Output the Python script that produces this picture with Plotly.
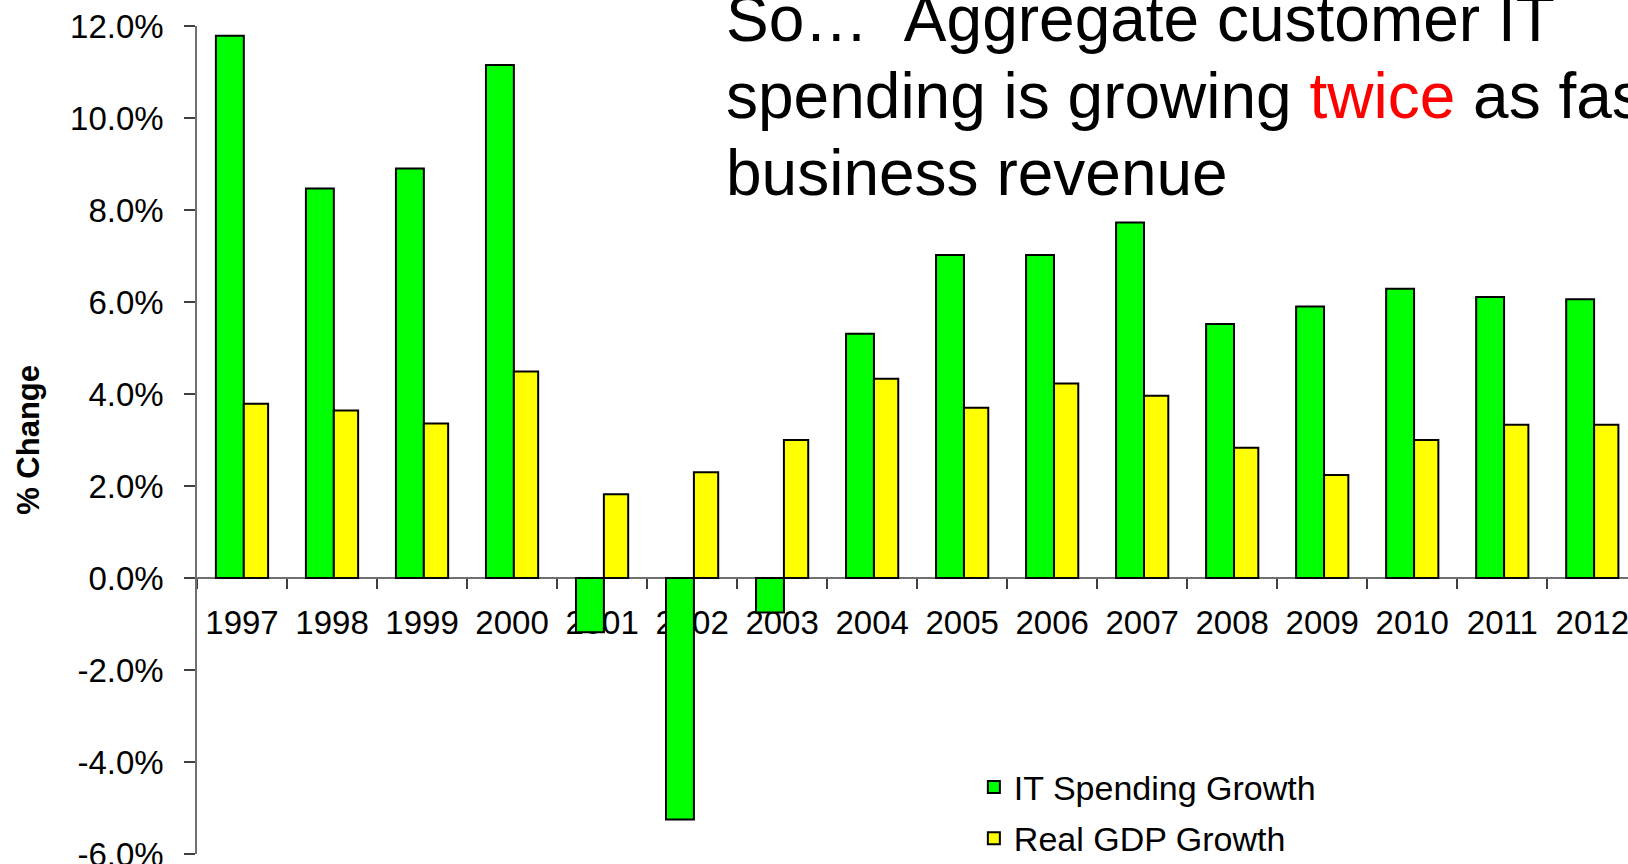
import plotly.graph_objects as go

years = ['1997', '1998', '1999', '2000', '2001', '2002', '2003', '2004',
         '2005', '2006', '2007', '2008', '2009', '2010', '2011', '2012']
it_spending = [11.79, 8.47, 8.90, 11.15, -1.18, -5.25, -0.75, 5.31,
               7.02, 7.02, 7.73, 5.52, 5.90, 6.29, 6.11, 6.06]
real_gdp = [3.79, 3.64, 3.36, 4.49, 1.82, 2.30, 3.00, 4.33,
            3.70, 4.23, 3.96, 2.83, 2.24, 3.00, 3.33, 3.33]
y_tickvals = [-6, -4, -2, 0, 2, 4, 6, 8, 10, 12]
y_ticktext = ['-6.0%', '-4.0%', '-2.0%', '0.0%', '2.0%', '4.0%', '6.0%', '8.0%', '10.0%', '12.0%']

W, H = 1628, 864
ML, MR, MT, MB = 197.3, 0, 26, 10.4
PW = W - ML - MR
PH = H - MT - MB
FONT = 'Liberation Sans, Arial, Helvetica, sans-serif'

def px_x(x):
    return (x - ML) / PW

def px_y(y):
    return (H - MB - y) / PH

fig = go.Figure()
fig.add_trace(go.Bar(
    x=years, y=it_spending, name='IT Spending Growth',
    marker=dict(color='#00FF00', line=dict(color='black', width=2)),
    offset=-0.29, width=0.31, legendgroup='a'))
fig.add_trace(go.Bar(
    x=years, y=real_gdp, name='Real GDP Growth',
    marker=dict(color='#FFFF00', line=dict(color='black', width=2)),
    offset=0.02, width=0.27, legendgroup='b'))

ann = []
line_texts = ['So…\u00a0\u00a0Aggregate customer IT',
              "spending is growing <span style='color:#FF0000'>twice</span> as fast as",
              'business revenue']
line_centers = [19.5, 96, 173]
for t, c in zip(line_texts, line_centers):
    ann.append(dict(text=t, xref='paper', yref='paper', x=px_x(724), y=px_y(c),
                    xanchor='left', yanchor='middle', showarrow=False,
                    font=dict(size=64, color='black', family=FONT)))
ann.append(dict(text='<b>% Change</b>', xref='paper', yref='paper',
                x=px_x(29), y=px_y(440), textangle=-90, showarrow=False,
                xanchor='center', yanchor='middle',
                font=dict(size=31, color='black', family=FONT)))

fig.update_layout(
    width=W, height=H,
    margin=dict(l=ML, r=MR, t=MT, b=MB, pad=0, autoexpand=False),
    paper_bgcolor='white', plot_bgcolor='white',
    barmode='overlay',
    font=dict(family=FONT, color='black'),
    showlegend=True,
    legend=dict(x=px_x(974), y=px_y(758), xanchor='left', yanchor='top',
                font=dict(size=34, color='black', family=FONT),
                bgcolor='rgba(0,0,0,0)', borderwidth=0,
                traceorder='grouped', tracegroupgap=4),
    annotations=ann,
    xaxis=dict(type='category', range=[-0.5, -0.5 + PW / 90.0],
               anchor='free', position=1 / 3,
               showline=True, linecolor='#707070', linewidth=1.5,
               ticks='outside', tickson='boundaries', ticklen=10,
               tickcolor='#404040', tickwidth=1.5,
               tickfont=dict(size=33, color='black', family=FONT),
               ticklabelstandoff=16, ticklabeloverflow='allow',
               showgrid=False, zeroline=False, automargin=False,
               layer='below traces'),
    yaxis=dict(range=[-6, 12], tickvals=y_tickvals, ticktext=y_ticktext,
               showline=True, linecolor='#707070', linewidth=1.5,
               ticks='outside', ticklen=11, tickcolor='#404040', tickwidth=1.5,
               tickfont=dict(size=33, color='black', family=FONT),
               ticklabelstandoff=14, ticklabeloverflow='allow',
               showgrid=False, zeroline=False, automargin=False),
)

fig.write_html('out.html')
